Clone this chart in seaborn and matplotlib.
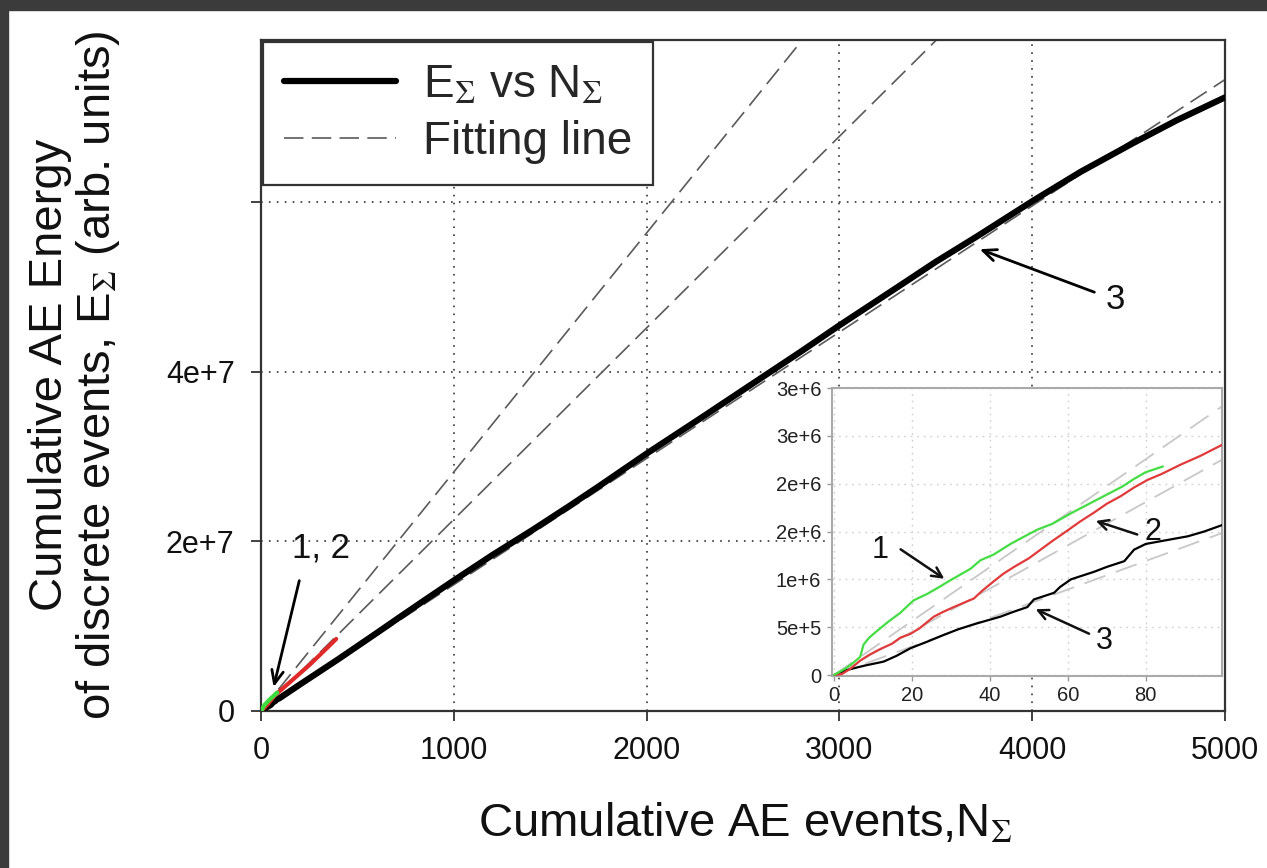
import numpy as np
import pandas as pd
import matplotlib
matplotlib.use("Agg")
import matplotlib.pyplot as plt
from matplotlib.lines import Line2D
from matplotlib.patches import Rectangle
import seaborn as sns

# ---------------- data ----------------
# Series 3 : E_sum vs N_sum (main curve)
n3 = [0, 3, 8, 12.7, 16, 19.6, 24, 28.2, 32, 36.7, 42.7, 46, 49.6, 51.3, 56.5, 58,
      60.8, 66.8, 70, 74.5, 77, 80, 84, 90.8, 95, 99.8,
      200, 300, 400, 500, 600, 721, 850, 1000, 1200, 1411, 1600, 1758, 2002, 2277,
      2588, 2800, 3000, 3314, 3500, 3714, 4004, 4250, 4523, 4750, 5000]
e3 = [0, 5e4, 1.0e5, 1.4e5, 2.0e5, 2.8e5, 3.5e5, 4.2e5, 4.8e5, 5.4e5, 6.1e5, 6.6e5, 7.1e5,
      7.9e5, 8.6e5, 9.2e5, 1.0e6, 1.08e6, 1.13e6, 1.19e6, 1.31e6, 1.37e6, 1.4e6, 1.45e6,
      1.5e6, 1.57e6,
      3.1e6, 4.6e6, 6.1e6, 7.65e6, 9.2e6, 1.11e7, 1.31e7, 1.54e7, 1.84e7, 2.14e7, 2.42e7,
      2.66e7, 3.04e7, 3.45e7, 3.92e7, 4.24e7, 4.55e7, 5.02e7, 5.3e7, 5.6e7, 6.02e7,
      6.36e7, 6.70e7, 6.97e7, 7.24e7]

# Series 2 (red)
n2 = [0, 2, 4, 6.7, 9, 11.8, 15, 17, 19.6, 22, 25.6, 28, 30.7, 33, 35.9, 38, 41, 43.5,
      46.2, 50, 53, 56, 59.9, 63, 66.8, 70, 73.6, 77, 80.5, 84, 89, 94, 99.8,
      150, 200, 250, 300, 350, 390]
e2 = [0, 1e4, 6e4, 1.5e5, 2.1e5, 2.7e5, 3.3e5, 3.9e5, 4.3e5, 4.9e5, 6.1e5, 6.6e5, 7.1e5,
      7.5e5, 8.0e5, 8.8e5, 9.8e5, 1.06e6, 1.13e6, 1.22e6, 1.31e6, 1.4e6, 1.51e6, 1.6e6,
      1.7e6, 1.79e6, 1.87e6, 1.96e6, 2.04e6, 2.1e6, 2.2e6, 2.29e6, 2.41e6,
      3.4e6, 4.4e6, 5.4e6, 6.5e6, 7.6e6, 8.5e6]

# Series 1 (green)
n1 = [0, 3, 5, 6.7, 7.6, 9, 11, 14, 17, 20.4, 24, 27, 29, 32, 35, 37.6, 41, 45.3, 48,
      52.2, 56, 60.8, 65, 70.2, 74, 77, 80, 84.4]
e1 = [0, 7e4, 1.3e5, 1.9e5, 3.2e5, 3.9e5, 4.6e5, 5.6e5, 6.5e5, 7.8e5, 8.5e5, 9.2e5,
      9.7e5, 1.04e6, 1.11e6, 1.2e6, 1.26e6, 1.37e6, 1.43e6, 1.52e6, 1.58e6, 1.69e6,
      1.78e6, 1.89e6, 1.97e6, 2.05e6, 2.12e6, 2.18e6]

# Fitting lines (slopes, energy per event)
fit_slopes = [2.82e4, 2.26e4, 1.49e4]
fit_n = [0, 5000]

main_xticks = [0, 1000, 2000, 3000, 4000, 5000]
main_yticks = [0, 2e7, 4e7, 6e7]
main_yticklabels = ["0", "2e+7", "4e+7", ""]
inset_xticks = [0, 20, 40, 60, 80]
inset_yticks = [0, 5e5, 1e6, 1.5e6, 2e6, 2.5e6, 3e6]
inset_yticklabels = ["0", "5e+5", "1e+6", "2e+6", "2e+6", "3e+6", "3e+6"]

# ---------------- style ----------------
sns.set_theme(style="ticks")
plt.rcParams["font.family"] = ["Liberation Sans", "DejaVu Sans"]
plt.rcParams["mathtext.fontset"] = "stix"
plt.rcParams["lines.scale_dashes"] = False

W, H = 1267, 868
fig = plt.figure(figsize=(W / 100, H / 100), dpi=100)
fig.patch.set_facecolor("white")

def fx(px):
    return px / W

def fy(py):
    return 1 - py / H

ax = fig.add_axes([fx(261), fy(711), fx(1225) - fx(261), fy(40) - fy(711)])

# fitting lines
for s in fit_slopes:
    sns.lineplot(x=fit_n, y=[v * s for v in fit_n], ax=ax, color="#5a5a5a",
                 lw=1.2, legend=False, zorder=2,
                 estimator=None, sort=False).lines[-1].set_dashes((14, 6))

sns.lineplot(x=n3, y=e3, ax=ax, color="black", lw=4.5, estimator=None, sort=False,
             legend=False, zorder=4)
sns.lineplot(x=n2, y=e2, ax=ax, color="#e02a2a", lw=3, estimator=None, sort=False,
             legend=False, zorder=5)
sns.lineplot(x=n1, y=e1, ax=ax, color="#3ddc3d", lw=3, estimator=None, sort=False,
             legend=False, zorder=6)

ax.set_xlim(0, 5000)
ax.set_ylim(0, 7.917e7)
ax.set_xticks(main_xticks)
ax.set_xticklabels([str(v) for v in main_xticks])
ax.set_yticks(main_yticks)
ax.set_yticklabels(main_yticklabels)
ax.tick_params(axis="both", direction="out", length=7, width=1.3, colors="#333333",
               labelsize=22, labelcolor="#111111")
ax.tick_params(axis="x", pad=11)
ax.tick_params(axis="y", pad=12)
for sp in ax.spines.values():
    sp.set_visible(True)
    sp.set_color("#333333")
    sp.set_linewidth(1.6)
ax.grid(True, color="#444444", lw=1.3, linestyle=(0, (1.2, 4.5)))
ax.set_axisbelow(True)
ax.set_xlabel("")
ax.set_ylabel("")

# legend
handles = [Line2D([], [], color="black", lw=4.5),
           Line2D([], [], color="#5a5a5a", lw=1.2, dashes=(14, 6))]
leg = ax.legend(handles, [r"E$_{\Sigma}$ vs N$_{\Sigma}$", "Fitting line"],
                loc="upper left", bbox_to_anchor=(0.002, 0.997), borderaxespad=0,
                fontsize=33, frameon=True, fancybox=False, framealpha=1,
                edgecolor="#333333", borderpad=0.45, handlelength=2.45,
                handletextpad=0.6, labelspacing=0.3)
leg.get_frame().set_linewidth(1.6)
leg.set_zorder(10)

# main annotations
arrow_kw = dict(arrowstyle="->,head_length=0.8,head_width=0.35", color="black", lw=2)
ax.annotate("", xy=(62, 2.5e6), xytext=(202, 1.57e7), arrowprops=arrow_kw, zorder=8)
ax.text(311, 1.92e7, "1, 2", fontsize=25, ha="center", va="center", color="#111111")
ax.annotate("", xy=(3714, 5.46e7), xytext=(4336, 4.93e7), arrowprops=arrow_kw, zorder=8)
ax.text(4429, 4.86e7, "3", fontsize=25, ha="center", va="center", color="#111111")

# labels
fig.text(fx(75), fy(375), "Cumulative AE Energy\nof discrete events, E$_{\\Sigma}$ (arb. units)",
         rotation=90, ha="center", va="center", fontsize=34, color="#111111",
         multialignment="center", linespacing=1.05)
fig.text(fx(745), fy(825), r"Cumulative AE events,N$_{\Sigma}$", ha="center", va="center",
         fontsize=34, color="#111111")

# ---------------- inset ----------------
ins = fig.add_axes([fx(831.7), fy(676), fx(1221.7) - fx(831.7), fy(388) - fy(676)])
ins.set_facecolor("white")
ins_n = [0, 100]
for s in fit_slopes:
    sns.lineplot(x=ins_n, y=[v * s for v in ins_n], ax=ins, color="#c8c8c8", lw=1.3,
                 legend=False, estimator=None, sort=False).lines[-1].set_dashes((16, 8))
sns.lineplot(x=n3, y=e3, ax=ins, color="black", lw=1.6, estimator=None, sort=False,
             legend=False, zorder=4)
sns.lineplot(x=n2, y=e2, ax=ins, color="#e03a3a", lw=1.6, estimator=None, sort=False,
             legend=False, zorder=5)
sns.lineplot(x=n1, y=e1, ax=ins, color="#44dd44", lw=1.6, estimator=None, sort=False,
             legend=False, zorder=6)
ins.set_xlim(-0.6, 99.5)
ins.set_ylim(-1e4, 3.0e6)
ins.set_xticks(inset_xticks)
ins.set_xticklabels([str(v) for v in inset_xticks])
ins.set_yticks(inset_yticks)
ins.set_yticklabels(inset_yticklabels)
ins.tick_params(axis="both", direction="out", length=3.5, width=1, colors="#999999",
                labelsize=14.5, labelcolor="#222222", pad=4)
for sp in ins.spines.values():
    sp.set_visible(True)
    sp.set_color("#aaaaaa")
    sp.set_linewidth(1.5)
ins.grid(True, color="#cfcfcf", lw=1.0, linestyle=(0, (1.2, 3.5)))
ins.set_axisbelow(True)
ins.set_xlabel("")
ins.set_ylabel("")

ikw = dict(arrowstyle="->,head_length=0.6,head_width=0.3", color="#111111", lw=1.8)
ins.annotate("", xy=(28.9, 0.99e6), xytext=(16.5, 1.33e6), arrowprops=ikw, zorder=8)
ins.text(11.8, 1.31e6, "1", fontsize=22, ha="center", va="center", color="#111111")
ins.annotate("", xy=(66.5, 1.62e6), xytext=(78.5, 1.46e6), arrowprops=ikw, zorder=8)
ins.text(81.9, 1.5e6, "2", fontsize=22, ha="center", va="center", color="#111111")
ins.annotate("", xy=(51.1, 0.7e6), xytext=(66.1, 0.42e6), arrowprops=ikw, zorder=8)
ins.text(69.5, 0.36e6, "3", fontsize=22, ha="center", va="center", color="#111111")

# dark border strips of the screenshot
fig.add_artist(Rectangle((0, fy(10)), 1, 10 / H, transform=fig.transFigure,
                         color="#3b3b3b", zorder=20))
fig.add_artist(Rectangle((0, 0), 8 / W, 1, transform=fig.transFigure,
                         color="#3b3b3b", zorder=20))

fig.savefig("out.png", dpi=100, facecolor="white")
